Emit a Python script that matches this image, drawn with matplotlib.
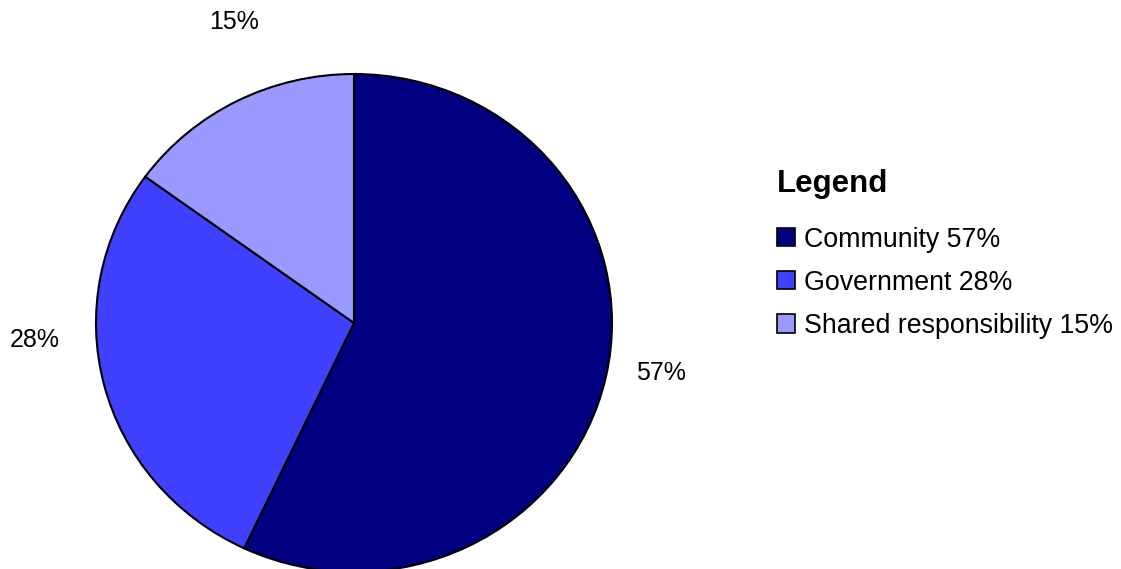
import matplotlib
matplotlib.use("Agg")
import matplotlib.pyplot as plt
from matplotlib.patches import Patch

plt.rcParams['font.family'] = ['Liberation Sans', 'DejaVu Sans']

# Responsibility shares (percent)
categories = ['Community', 'Government', 'Shared responsibility']
values = [57, 28, 15]
colors = ['#000080', '#4040FF', '#9999FF']
# where the percentage labels sit (pie radius = 1)
label_pos = [(1.19, -0.20), (-1.236, -0.068), (-0.465, 1.209)]

W, H = 1121, 569
fig = plt.figure(figsize=(W / 100, H / 100), dpi=100)

# pie centre (354, 323) px, slightly squashed like the original
cx, cy, rx, ry = 354, 323, 258, 249
ax = fig.add_axes([(cx - rx) / W, (H - cy - ry) / H, 2 * rx / W, 2 * ry / H])

wedges, texts, autotexts = ax.pie(
    values, colors=colors, startangle=90, counterclock=False, radius=1,
    autopct='%1.0f%%', pctdistance=1.2,
    wedgeprops=dict(edgecolor='black', linewidth=1.5),
    textprops=dict(fontsize=18, color='black'))
for w in wedges:
    w.set_clip_on(False)
for t, p in zip(autotexts, label_pos):
    t.set_position(p)
    t.set_clip_on(False)

ax.set_xlim(-1, 1)
ax.set_ylim(-1, 1)
ax.set_aspect('auto')
ax.axis('off')

handles = [Patch(facecolor=c, edgecolor='black', linewidth=1.2) for c in colors]
labels = [f'{c} {v}%' for c, v in zip(categories, values)]
leg = fig.legend(handles, labels, loc='upper left',
                 bbox_to_anchor=(758 / W, 1 - 150 / H), frameon=False,
                 title='Legend', title_fontproperties=dict(size=22.5, weight='bold'),
                 fontsize=19.3, handlelength=0.67, handleheight=0.67,
                 handletextpad=0.34, labelspacing=0.64, alignment='left',
                 borderpad=0.2)
leg._legend_box.sep = 20

fig.savefig('out.png', dpi=100)
